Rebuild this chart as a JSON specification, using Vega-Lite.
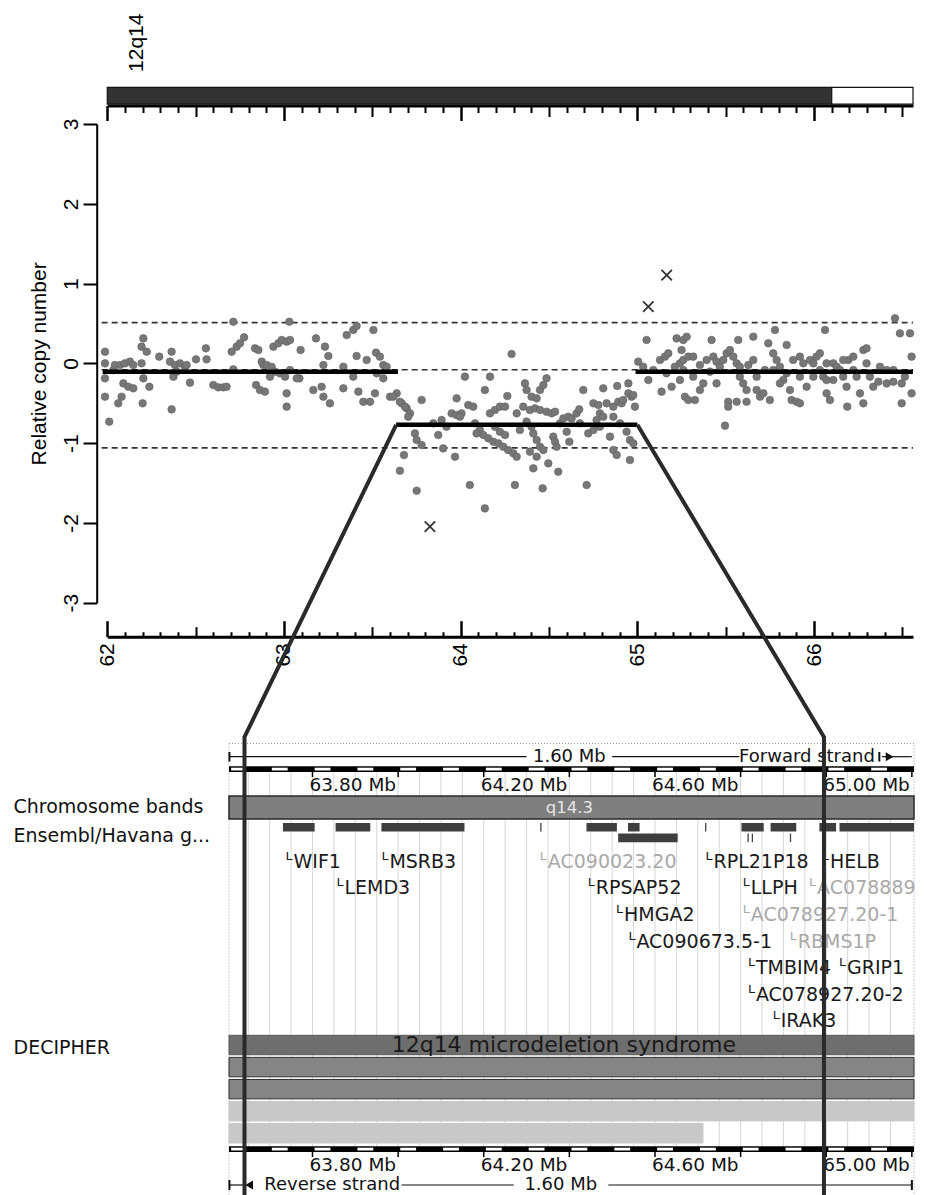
{
"$schema":"https://vega.github.io/schema/vega-lite/v6.json",
"autosize":"none","padding":0,"width":926,"height":1195,"background":"white",
"config":{"view":{"stroke":null},"axis":{"grid":false,"labelOverlap":false,"labelFlush":false,"labelBound":false,"domainCap":"butt","tickCap":"butt"}},
"datasets":{
"cn":[{"p":61.987,"c":0.146},{"p":61.987,"c":0.0},{"p":61.987,"c":-0.188},{"p":61.987,"c":-0.418},{"p":62.011,"c":-0.731},{"p":62.034,"c":-0.084},{"p":62.043,"c":-0.021},{"p":62.072,"c":-0.021},{"p":62.1,"c":0.0},{"p":62.128,"c":0.021},{"p":62.147,"c":-0.021},{"p":62.091,"c":-0.251},{"p":62.119,"c":-0.293},{"p":62.147,"c":-0.313},{"p":62.081,"c":-0.418},{"p":62.062,"c":-0.501},{"p":62.204,"c":0.313},{"p":62.194,"c":0.209},{"p":62.223,"c":0.146},{"p":62.194,"c":0.0},{"p":62.204,"c":-0.188},{"p":62.238,"c":-0.293},{"p":62.2,"c":-0.501},{"p":62.294,"c":0.084},{"p":62.364,"c":0.146},{"p":62.355,"c":0.021},{"p":62.383,"c":-0.021},{"p":62.411,"c":0.0},{"p":62.44,"c":-0.042},{"p":62.449,"c":-0.021},{"p":62.374,"c":-0.167},{"p":62.392,"c":-0.104},{"p":62.364,"c":-0.577},{"p":62.468,"c":-0.242},{"p":62.502,"c":0.05},{"p":62.558,"c":0.188},{"p":62.562,"c":0.05},{"p":62.6,"c":-0.272},{"p":62.628,"c":-0.301},{"p":62.657,"c":-0.301},{"p":62.675,"c":-0.293},{"p":62.713,"c":0.522},{"p":62.713,"c":-0.075},{"p":62.704,"c":0.146},{"p":62.732,"c":0.209},{"p":62.751,"c":0.251},{"p":62.774,"c":0.326},{"p":62.836,"c":0.188},{"p":62.855,"c":0.167},{"p":62.874,"c":0.021},{"p":62.883,"c":-0.021},{"p":62.902,"c":-0.021},{"p":62.842,"c":-0.272},{"p":62.864,"c":-0.334},{"p":62.892,"c":-0.355},{"p":62.94,"c":0.209},{"p":62.968,"c":0.251},{"p":62.987,"c":0.293},{"p":63.015,"c":0.272},{"p":63.034,"c":0.293},{"p":62.93,"c":-0.042},{"p":62.949,"c":-0.104},{"p":62.977,"c":-0.125},{"p":63.006,"c":-0.167},{"p":63.034,"c":-0.084},{"p":62.921,"c":-0.167},{"p":63.03,"c":0.522},{"p":63.094,"c":0.167},{"p":63.015,"c":-0.376},{"p":63.015,"c":-0.543},{"p":63.087,"c":-0.188},{"p":63.072,"c":-0.188},{"p":63.181,"c":0.313},{"p":63.232,"c":0.209},{"p":63.251,"c":0.092},{"p":63.223,"c":-0.021},{"p":63.166,"c":-0.334},{"p":63.213,"c":-0.293},{"p":63.223,"c":-0.418},{"p":63.26,"c":-0.501},{"p":63.336,"c":-0.042},{"p":63.336,"c":-0.313},{"p":63.355,"c":0.355},{"p":63.392,"c":0.418},{"p":63.411,"c":0.468},{"p":63.411,"c":0.092},{"p":63.468,"c":0.042},{"p":63.506,"c":0.418},{"p":63.521,"c":0.134},{"p":63.543,"c":0.084},{"p":63.562,"c":-0.021},{"p":63.581,"c":-0.042},{"p":63.525,"c":-0.125},{"p":63.392,"c":-0.167},{"p":63.421,"c":-0.355},{"p":63.449,"c":-0.481},{"p":63.487,"c":-0.481},{"p":63.515,"c":-0.376},{"p":63.562,"c":-0.188},{"p":63.6,"c":-0.418},{"p":63.638,"c":-0.376},{"p":63.666,"c":-0.501},{"p":63.694,"c":-0.564},{"p":63.713,"c":-0.627},
{"p":63.618,"c":-0.418},{"p":63.656,"c":-0.481},{"p":63.685,"c":-0.543},{"p":63.703,"c":-0.669},{"p":63.779,"c":-0.46},{"p":63.741,"c":-0.878},{"p":63.751,"c":-0.961},{"p":63.779,"c":-1.024},{"p":63.679,"c":-1.149},{"p":63.656,"c":-1.346},{"p":63.751,"c":-1.596},{"p":63.892,"c":-0.71},{"p":63.901,"c":-1.066},{"p":63.968,"c":-1.17},{"p":63.949,"c":-0.627},{"p":63.977,"c":-0.648},{"p":64.005,"c":-0.627},{"p":63.977,"c":-0.439},{"p":64.024,"c":-0.167},{"p":64.043,"c":-0.522},{"p":64.071,"c":-0.543},{"p":64.052,"c":-1.525},{"p":64.137,"c":-1.818},{"p":64.137,"c":-0.334},{"p":64.166,"c":-0.167},{"p":64.166,"c":-0.627},{"p":64.194,"c":-0.585},{"p":64.222,"c":-0.543},{"p":64.251,"c":-0.543},{"p":64.109,"c":-0.836},{"p":64.128,"c":-0.898},{"p":64.156,"c":-0.94},{"p":64.185,"c":-0.982},{"p":64.213,"c":-1.003},{"p":64.241,"c":-1.045},{"p":64.269,"c":-1.087},{"p":64.298,"c":-1.128},{"p":64.317,"c":-1.17},{"p":64.194,"c":-0.794},{"p":64.222,"c":-0.857},{"p":64.251,"c":-0.898},{"p":64.264,"c":-0.41},{"p":64.288,"c":0.117},{"p":64.317,"c":-0.627},{"p":64.307,"c":-1.525},{"p":64.364,"c":-0.251},{"p":64.373,"c":-0.334},{"p":64.401,"c":-0.418},{"p":64.43,"c":-0.439},{"p":64.449,"c":-0.334},{"p":64.468,"c":-0.272},{"p":64.486,"c":-0.188},{"p":64.354,"c":-0.543},{"p":64.392,"c":-0.585},{"p":64.42,"c":-0.564},{"p":64.449,"c":-0.585},{"p":64.486,"c":-0.606},{"p":64.515,"c":-0.627},{"p":64.534,"c":-0.606},{"p":64.373,"c":-0.731},{"p":64.401,"c":-0.794},{"p":64.411,"c":-0.878},{"p":64.43,"c":-0.961},{"p":64.449,"c":-1.045},{"p":64.468,"c":-1.087},{"p":64.392,"c":-1.107},{"p":64.43,"c":-1.17},{"p":64.496,"c":-1.254},{"p":64.411,"c":-1.316},{"p":64.464,"c":-1.567},{"p":64.524,"c":-0.919},{"p":64.534,"c":-0.982},{"p":64.543,"c":-1.045},{"p":64.562,"c":-0.752},{"p":64.581,"c":-0.69},{"p":64.609,"c":-0.669},{"p":64.628,"c":-0.69},{"p":64.656,"c":-0.627},{"p":64.552,"c":-1.358},{"p":64.615,"c":-0.982},{"p":64.671,"c":-0.577},{"p":64.713,"c":-1.525},{"p":64.722,"c":-0.878},{"p":64.751,"c":-0.501},{"p":64.779,"c":-0.522},{"p":64.788,"c":-0.627},{"p":64.807,"c":-0.669},{"p":64.826,"c":-0.501},{"p":64.864,"c":-0.543},{"p":64.892,"c":-0.481},{"p":64.911,"c":-0.501},{"p":64.92,"c":-0.46},{"p":64.949,"c":-0.376},{"p":64.967,"c":-0.418},{"p":64.807,"c":-0.313},{"p":64.886,"c":-0.284},{"p":64.949,"c":-0.251},{"p":64.977,"c":-0.397},{"p":64.986,"c":-0.543},{"p":64.769,"c":-0.71},{"p":64.788,"c":-0.794},{"p":64.864,"c":-0.669},{"p":64.902,"c":-0.752},{"p":64.939,"c":-0.857},{"p":64.958,"c":-0.961},{"p":64.977,"c":-1.003},{"p":64.864,"c":-1.087},{"p":64.883,"c":-1.149},{"p":64.958,"c":-1.212},{"p":63.845,"c":-0.752},{"p":63.92,"c":-0.794},{"p":63.873,"c":-0.898},{"p":63.996,"c":-0.669},{"p":64.09,"c":-0.878},{"p":64.081,"c":-0.752},{"p":64.335,"c":-0.836},{"p":64.6,"c":-0.857},{"p":64.675,"c":-0.752},{"p":64.751,"c":-0.836},{"p":64.845,"c":-0.919},{"p":64.694,"c":-0.334},
{"p":65.005,"c":0.021},{"p":65.033,"c":-0.042},{"p":65.062,"c":-0.209},{"p":65.052,"c":0.293},{"p":65.128,"c":0.042},{"p":65.156,"c":0.084},{"p":65.175,"c":0.125},{"p":65.137,"c":-0.355},{"p":65.194,"c":-0.293},{"p":65.222,"c":0.313},{"p":65.26,"c":0.293},{"p":65.279,"c":0.334},{"p":65.25,"c":0.167},{"p":65.241,"c":0.0},{"p":65.26,"c":0.042},{"p":65.288,"c":0.084},{"p":65.316,"c":0.084},{"p":65.26,"c":-0.084},{"p":65.241,"c":-0.209},{"p":65.269,"c":-0.418},{"p":65.288,"c":-0.46},{"p":65.326,"c":-0.46},{"p":65.354,"c":-0.334},{"p":65.373,"c":-0.251},{"p":65.392,"c":0.042},{"p":65.43,"c":0.084},{"p":65.42,"c":0.293},{"p":65.448,"c":0.021},{"p":65.467,"c":-0.042},{"p":65.486,"c":0.042},{"p":65.505,"c":0.125},{"p":65.524,"c":0.167},{"p":65.543,"c":0.084},{"p":65.562,"c":0.0},{"p":65.58,"c":-0.042},{"p":65.58,"c":-0.167},{"p":65.599,"c":-0.251},{"p":65.618,"c":-0.334},{"p":65.571,"c":0.293},{"p":65.514,"c":-0.481},{"p":65.514,"c":-0.543},{"p":65.496,"c":-0.781},{"p":65.562,"c":-0.481},{"p":65.618,"c":-0.481},{"p":65.656,"c":0.334},{"p":65.675,"c":-0.334},{"p":65.694,"c":-0.418},{"p":65.713,"c":-0.376},{"p":65.722,"c":-0.084},{"p":65.741,"c":0.251},{"p":65.75,"c":-0.46},{"p":65.769,"c":0.125},{"p":65.779,"c":0.418},{"p":65.788,"c":0.042},{"p":65.807,"c":-0.042},{"p":65.826,"c":-0.209},{"p":65.845,"c":0.23},{"p":65.864,"c":-0.334},{"p":65.873,"c":-0.46},{"p":65.901,"c":-0.481},{"p":65.92,"c":-0.501},{"p":65.882,"c":0.042},{"p":65.92,"c":0.084},{"p":65.939,"c":0.0},{"p":65.958,"c":-0.293},{"p":65.977,"c":0.042},{"p":65.996,"c":0.0},{"p":66.014,"c":0.084},{"p":66.033,"c":0.125},{"p":66.033,"c":-0.084},{"p":66.052,"c":-0.167},{"p":66.071,"c":-0.209},{"p":66.062,"c":0.418},{"p":66.071,"c":-0.376},{"p":66.09,"c":-0.46},{"p":66.109,"c":0.0},{"p":66.128,"c":-0.042},{"p":66.147,"c":-0.084},{"p":66.165,"c":-0.167},{"p":66.184,"c":-0.293},{"p":66.188,"c":-0.543},{"p":66.194,"c":0.042},{"p":66.222,"c":-0.084},{"p":66.241,"c":-0.167},{"p":66.26,"c":-0.376},{"p":66.279,"c":-0.501},{"p":66.279,"c":0.167},{"p":66.297,"c":0.188},{"p":66.297,"c":0.0},{"p":66.316,"c":-0.167},{"p":66.335,"c":-0.293},{"p":66.364,"c":-0.23},{"p":66.411,"c":-0.084},{"p":66.411,"c":-0.251},{"p":66.449,"c":-0.23},{"p":66.458,"c":0.564},{"p":66.486,"c":0.376},{"p":66.496,"c":-0.251},{"p":66.496,"c":-0.501},{"p":66.514,"c":-0.167},{"p":66.543,"c":0.376},{"p":66.552,"c":0.084},{"p":66.552,"c":-0.376},{"p":65.212,"c":-0.042},{"p":65.354,"c":-0.021},{"p":65.411,"c":-0.104},{"p":65.628,"c":-0.021},{"p":65.656,"c":0.042},{"p":65.769,"c":-0.084},{"p":65.845,"c":-0.125},{"p":65.92,"c":-0.167},{"p":65.996,"c":-0.167},{"p":66.109,"c":-0.209},{"p":66.222,"c":0.084},{"p":66.373,"c":-0.042},{"p":66.449,"c":-0.084},{"p":65.09,"c":-0.084},{"p":65.165,"c":-0.125},{"p":65.316,"c":-0.167},{"p":65.448,"c":-0.251},{"p":65.675,"c":-0.167},{"p":65.807,"c":-0.251},{"p":66.071,"c":0.0},{"p":66.165,"c":0.042}],
"dashes":[{"s":63.41,"e":63.44},{"s":63.505,"e":63.542},{"s":63.605,"e":63.642},{"s":63.705,"e":63.742},{"s":63.805,"e":63.842},{"s":63.905,"e":63.942},{"s":64.005,"e":64.042},{"s":64.105,"e":64.142},{"s":64.205,"e":64.242},{"s":64.305,"e":64.342},{"s":64.405,"e":64.442},{"s":64.505,"e":64.542},{"s":64.605,"e":64.642},{"s":64.705,"e":64.742},{"s":64.805,"e":64.842},{"s":64.905,"e":64.942}],
"rticks":[{"mb":63.6},{"mb":63.8},{"mb":64.0},{"mb":64.2},{"mb":64.4},{"mb":64.6},{"mb":64.8},{"mb":65.0}],
"rlabels":[{"mb":63.8,"t":"63.80 Mb"},{"mb":64.2,"t":"64.20 Mb"},{"mb":64.6,"t":"64.60 Mb"},{"mb":65.0,"t":"65.00 Mb"}],
"glabels":[{"name":"WIF1","mb":63.537,"row":1,"shade":"dark"},{"name":"MSRB3","mb":63.761,"row":1,"shade":"dark"},{"name":"AC090023.20","mb":64.131,"row":1,"shade":"light"},{"name":"RPL21P18","mb":64.518,"row":1,"shade":"dark"},{"name":"HELB","mb":64.79,"row":1,"shade":"dark"},{"name":"LEMD3","mb":63.656,"row":2,"shade":"dark"},{"name":"RPSAP52","mb":64.243,"row":2,"shade":"dark"},{"name":"LLPH","mb":64.605,"row":2,"shade":"dark"},{"name":"AC078889","mb":64.76,"row":2,"shade":"light"},{"name":"HMGA2","mb":64.309,"row":3,"shade":"dark"},{"name":"AC078927.20-1","mb":64.605,"row":3,"shade":"light"},{"name":"AC090673.5-1","mb":64.338,"row":4,"shade":"dark"},{"name":"RBMS1P","mb":64.715,"row":4,"shade":"light"},{"name":"TMBIM4","mb":64.617,"row":5,"shade":"dark"},{"name":"GRIP1","mb":64.83,"row":5,"shade":"dark"},{"name":"AC078927.20-2","mb":64.617,"row":6,"shade":"dark"},{"name":"IRAK3","mb":64.675,"row":7,"shade":"dark"}]
},
"layer":[
{"data":{"values":[{"track":"panel","s":63.405,"e":65.005}]},
 "mark":{"type":"rect","fill":"white","stroke":"#9a9a9a","strokeDash":[1,2],"strokeWidth":1},
 "encoding":{"x":{"field":"s","type":"quantitative","scale":{"domain":[63.405,65.005],"range":[229,914],"nice":false,"zero":false},"axis":null},"x2":{"field":"e"},
  "y":{"datum":0.85,"type":"quantitative","scale":{"domain":[0,46],"range":[735,1195],"nice":false,"zero":false},
   "axis":{"orient":"left","offset":-229,"values":[7.17,10.0,31.2],"ticks":false,"tickSize":0,"domain":false,"labelAlign":"left","labelBaseline":"middle","labelPadding":216,"labelFont":"DejaVu Sans","labelFontSize":19,"labelColor":"#111","labelLimit":300,"labelExpr":"datum.value < 8 ? 'Chromosome bands' : (datum.value < 20 ? 'Ensembl/Havana g...' : 'DECIPHER')","title":null}},
  "y2":{"datum":47}}},
{"data":{"values":[{"mb":63.45},{"mb":63.5},{"mb":63.55},{"mb":63.6},{"mb":63.65},{"mb":63.7},{"mb":63.75},{"mb":63.8},{"mb":63.85},{"mb":63.9},{"mb":63.95},{"mb":64.0},{"mb":64.05},{"mb":64.1},{"mb":64.15},{"mb":64.2},{"mb":64.25},{"mb":64.3},{"mb":64.35},{"mb":64.4},{"mb":64.45},{"mb":64.5},{"mb":64.55},{"mb":64.6},{"mb":64.65},{"mb":64.7},{"mb":64.75},{"mb":64.8},{"mb":64.85},{"mb":64.9},{"mb":64.95}]},
 "mark":{"type":"rule","color":"#d6d6d6","strokeWidth":1},
 "encoding":{"x":{"field":"mb","type":"quantitative","scale":{"domain":[63.405,65.005],"range":[229,914],"nice":false,"zero":false},"axis":null},
  "y":{"datum":3.7,"type":"quantitative","scale":{"domain":[0,46],"range":[735,1195],"nice":false,"zero":false},"axis":null},"y2":{"datum":41.2}}},
{"data":{"values":[{"s":63.405,"e":64.1},{"s":64.3,"e":64.597},{"s":64.93,"e":65.0}]},
 "mark":{"type":"rule","color":"#111","strokeWidth":1.2},
 "encoding":{"x":{"field":"s","type":"quantitative","scale":{"domain":[63.405,65.005],"range":[229,914],"nice":false,"zero":false},"axis":null},"x2":{"field":"e"},
  "y":{"datum":2.17,"type":"quantitative","scale":{"domain":[0,46],"range":[735,1195],"nice":false,"zero":false},"axis":null}}},
{"data":{"values":[{"mb":63.406},{"mb":64.924}]},
 "mark":{"type":"rule","color":"#111","strokeWidth":2},
 "encoding":{"x":{"field":"mb","type":"quantitative","scale":{"domain":[63.405,65.005],"range":[229,914],"nice":false,"zero":false},"axis":null},
  "y":{"datum":1.7,"type":"quantitative","scale":{"domain":[0,46],"range":[735,1195],"nice":false,"zero":false},"axis":null},"y2":{"datum":2.65}}},
{"data":{"values":[{"mb":64.948}]},
 "mark":{"type":"point","shape":"triangle-right","filled":true,"color":"#111","size":80,"opacity":1},
 "encoding":{"x":{"field":"mb","type":"quantitative","scale":{"domain":[63.405,65.005],"range":[229,914],"nice":false,"zero":false},"axis":null},
  "y":{"datum":2.17,"type":"quantitative","scale":{"domain":[0,46],"range":[735,1195],"nice":false,"zero":false},"axis":null}}},
{"data":{"values":[{"mb":64.2,"t":"1.60 Mb"},{"mb":64.755,"t":"Forward strand"}]},
 "mark":{"type":"text","font":"DejaVu Sans","fontSize":18,"color":"#111","align":"center","baseline":"middle"},
 "encoding":{"x":{"field":"mb","type":"quantitative","scale":{"domain":[63.405,65.005],"range":[229,914],"nice":false,"zero":false},"axis":null},
  "y":{"datum":2.17,"type":"quantitative","scale":{"domain":[0,46],"range":[735,1195],"nice":false,"zero":false},"axis":null},"text":{"field":"t"}}},
{"data":{"values":[{"s":63.405,"e":65.005}]},
 "mark":{"type":"rect","fill":"#000"},
 "encoding":{"x":{"field":"s","type":"quantitative","scale":{"domain":[63.405,65.005],"range":[229,914],"nice":false,"zero":false},"axis":null},"x2":{"field":"e"},
  "y":{"datum":3.12,"type":"quantitative","scale":{"domain":[0,46],"range":[735,1195],"nice":false,"zero":false},"axis":null},"y2":{"datum":3.7}}},
{"data":{"name":"dashes"},
 "mark":{"type":"rect","fill":"#fff"},
 "encoding":{"x":{"field":"s","type":"quantitative","scale":{"domain":[63.405,65.005],"range":[229,914],"nice":false,"zero":false},"axis":null},"x2":{"field":"e"},
  "y":{"datum":3.27,"type":"quantitative","scale":{"domain":[0,46],"range":[735,1195],"nice":false,"zero":false},"axis":null},"y2":{"datum":3.55}}},
{"data":{"name":"rticks"},
 "mark":{"type":"rule","color":"#000","strokeWidth":1.5},
 "encoding":{"x":{"field":"mb","type":"quantitative","scale":{"domain":[63.405,65.005],"range":[229,914],"nice":false,"zero":false},"axis":null},
  "y":{"datum":3.7,"type":"quantitative","scale":{"domain":[0,46],"range":[735,1195],"nice":false,"zero":false},"axis":null},"y2":{"datum":4.2}}},
{"data":{"name":"rlabels"},
 "mark":{"type":"text","font":"DejaVu Sans","fontSize":18.5,"color":"#111","align":"right","baseline":"middle","dx":-2},
 "encoding":{"x":{"field":"mb","type":"quantitative","scale":{"domain":[63.405,65.005],"range":[229,914],"nice":false,"zero":false},"axis":null},
  "y":{"datum":5.0,"type":"quantitative","scale":{"domain":[0,46],"range":[735,1195],"nice":false,"zero":false},"axis":null},"text":{"field":"t"}}},
{"data":{"values":[{"band":"q14.3","s":63.405,"e":65.005}]},
 "mark":{"type":"rect","fill":"#7f7f7f","stroke":"#2a2a2a","strokeWidth":1.5},
 "encoding":{"x":{"field":"s","type":"quantitative","scale":{"domain":[63.405,65.005],"range":[229,914],"nice":false,"zero":false},"axis":null},"x2":{"field":"e"},
  "y":{"datum":6.1,"type":"quantitative","scale":{"domain":[0,46],"range":[735,1195],"nice":false,"zero":false},"axis":null},"y2":{"datum":8.4}}},
{"data":{"values":[{"band":"q14.3","mid":64.2}]},
 "mark":{"type":"text","font":"DejaVu Sans","fontSize":16.5,"color":"#e6e6e6","align":"center","baseline":"middle"},
 "encoding":{"x":{"field":"mid","type":"quantitative","scale":{"domain":[63.405,65.005],"range":[229,914],"nice":false,"zero":false},"axis":null},
  "y":{"datum":7.25,"type":"quantitative","scale":{"domain":[0,46],"range":[735,1195],"nice":false,"zero":false},"axis":null},"text":{"field":"band"}}},
{"data":{"values":[{"s":63.531,"e":63.605,"row":1},{"s":63.654,"e":63.735,"row":1},{"s":63.761,"e":63.955,"row":1},{"s":64.24,"e":64.311,"row":1},{"s":64.337,"e":64.364,"row":1},{"s":64.602,"e":64.654,"row":1},{"s":64.67,"e":64.73,"row":1},{"s":64.784,"e":64.823,"row":1},{"s":64.831,"e":65.005,"row":1},{"s":64.132,"e":64.135,"row":1},{"s":64.517,"e":64.52,"row":1},{"s":64.314,"e":64.453,"row":2},{"s":64.616,"e":64.619,"row":2},{"s":64.626,"e":64.629,"row":2},{"s":64.715,"e":64.718,"row":2}]},
 "mark":{"type":"rect","fill":"#3e3e3e"},
 "encoding":{"x":{"field":"s","type":"quantitative","scale":{"domain":[63.405,65.005],"range":[229,914],"nice":false,"zero":false},"axis":null},"x2":{"field":"e"},
  "y":{"field":"row","type":"ordinal","scale":{"type":"band","domain":[1,2],"range":[821.9,843.2],"paddingInner":0.2,"paddingOuter":0.1},"axis":null}}},
{"data":{"name":"glabels"},
 "mark":{"type":"text","font":"DejaVu Sans","fontSize":20,"align":"left","baseline":"middle","text":"ᴸ","dy":-1},
 "encoding":{"x":{"field":"mb","type":"quantitative","scale":{"domain":[63.405,65.005],"range":[229,914],"nice":false,"zero":false},"axis":null},
  "y":{"field":"row","type":"ordinal","scale":{"type":"point","domain":[1,2,3,4,5,6,7],"range":[861.7,1021.3],"padding":0},"axis":null},
  "color":{"field":"shade","type":"nominal","scale":{"domain":["dark","light"],"range":["#1a1a1a","#a9a9a9"]},"legend":null}}},
{"data":{"name":"glabels"},
 "mark":{"type":"text","font":"DejaVu Sans","fontSize":19,"align":"left","baseline":"middle","dx":8},
 "encoding":{"x":{"field":"mb","type":"quantitative","scale":{"domain":[63.405,65.005],"range":[229,914],"nice":false,"zero":false},"axis":null},
  "y":{"field":"row","type":"ordinal","scale":{"type":"point","domain":[1,2,3,4,5,6,7],"range":[861.7,1021.3],"padding":0},"axis":null},
  "color":{"field":"shade","type":"nominal","scale":{"domain":["dark","light"],"range":["#1a1a1a","#a9a9a9"]},"legend":null},
  "text":{"field":"name"}}},
{"data":{"values":[{"track":1,"s":63.405,"e":65.005,"kind":"syndrome"},{"track":2,"s":63.405,"e":65.005,"kind":"hatched"},{"track":3,"s":63.405,"e":65.005,"kind":"hatched"},{"track":4,"s":63.405,"e":65.005,"kind":"light"},{"track":5,"s":63.405,"e":64.512,"kind":"light"}]},
 "mark":{"type":"rect","strokeWidth":1},
 "encoding":{"x":{"field":"s","type":"quantitative","scale":{"domain":[63.405,65.005],"range":[229,914],"nice":false,"zero":false},"axis":null},"x2":{"field":"e"},
  "y":{"field":"track","type":"ordinal","scale":{"type":"band","domain":[1,2,3,4,5],"range":[1034,1144.3],"paddingInner":0.12,"paddingOuter":0.06},"axis":null},
  "fill":{"field":"kind","type":"nominal","scale":{"domain":["syndrome","hatched","light"],"range":["#6e6e6e","#858585","#c8c8c8"]},"legend":null},
  "stroke":{"field":"kind","type":"nominal","scale":{"domain":["syndrome","hatched","light"],"range":["#5a5a5a","#2e2e2e","#c8c8c8"]},"legend":null}}},
{"data":{"values":[{"track":1,"mid":64.187,"t":"12q14 microdeletion syndrome"}]},
 "mark":{"type":"text","font":"DejaVu Sans","fontSize":22,"color":"#1a1a1a","align":"center","baseline":"middle"},
 "encoding":{"x":{"field":"mid","type":"quantitative","scale":{"domain":[63.405,65.005],"range":[229,914],"nice":false,"zero":false},"axis":null},
  "y":{"field":"track","type":"ordinal","scale":{"type":"band","domain":[1,2,3,4,5],"range":[1034,1144.3],"paddingInner":0.12,"paddingOuter":0.06},"axis":null},
  "text":{"field":"t"}}},
{"data":{"values":[{"s":63.405,"e":65.005}]},
 "mark":{"type":"rect","fill":"#000"},
 "encoding":{"x":{"field":"s","type":"quantitative","scale":{"domain":[63.405,65.005],"range":[229,914],"nice":false,"zero":false},"axis":null},"x2":{"field":"e"},
  "y":{"datum":41.12,"type":"quantitative","scale":{"domain":[0,46],"range":[735,1195],"nice":false,"zero":false},"axis":null},"y2":{"datum":41.7}}},
{"data":{"name":"dashes"},
 "mark":{"type":"rect","fill":"#fff"},
 "encoding":{"x":{"field":"s","type":"quantitative","scale":{"domain":[63.405,65.005],"range":[229,914],"nice":false,"zero":false},"axis":null},"x2":{"field":"e"},
  "y":{"datum":41.27,"type":"quantitative","scale":{"domain":[0,46],"range":[735,1195],"nice":false,"zero":false},"axis":null},"y2":{"datum":41.55}}},
{"data":{"name":"rticks"},
 "mark":{"type":"rule","color":"#000","strokeWidth":1.5},
 "encoding":{"x":{"field":"mb","type":"quantitative","scale":{"domain":[63.405,65.005],"range":[229,914],"nice":false,"zero":false},"axis":null},
  "y":{"datum":41.7,"type":"quantitative","scale":{"domain":[0,46],"range":[735,1195],"nice":false,"zero":false},"axis":null},"y2":{"datum":42.2}}},
{"data":{"name":"rlabels"},
 "mark":{"type":"text","font":"DejaVu Sans","fontSize":18.5,"color":"#111","align":"right","baseline":"middle","dx":-2},
 "encoding":{"x":{"field":"mb","type":"quantitative","scale":{"domain":[63.405,65.005],"range":[229,914],"nice":false,"zero":false},"axis":null},
  "y":{"datum":43.0,"type":"quantitative","scale":{"domain":[0,46],"range":[735,1195],"nice":false,"zero":false},"axis":null},"text":{"field":"t"}}},
{"data":{"values":[{"s":63.405,"e":63.44},{"s":63.808,"e":64.07},{"s":64.291,"e":65.0}]},
 "mark":{"type":"rule","color":"#111","strokeWidth":1.2},
 "encoding":{"x":{"field":"s","type":"quantitative","scale":{"domain":[63.405,65.005],"range":[229,914],"nice":false,"zero":false},"axis":null},"x2":{"field":"e"},
  "y":{"datum":45.0,"type":"quantitative","scale":{"domain":[0,46],"range":[735,1195],"nice":false,"zero":false},"axis":null}}},
{"data":{"values":[{"mb":63.406},{"mb":65.0}]},
 "mark":{"type":"rule","color":"#111","strokeWidth":2},
 "encoding":{"x":{"field":"mb","type":"quantitative","scale":{"domain":[63.405,65.005],"range":[229,914],"nice":false,"zero":false},"axis":null},
  "y":{"datum":44.5,"type":"quantitative","scale":{"domain":[0,46],"range":[735,1195],"nice":false,"zero":false},"axis":null},"y2":{"datum":45.5}}},
{"data":{"values":[{"mb":63.452}]},
 "mark":{"type":"point","shape":"triangle-left","filled":true,"color":"#111","size":80,"opacity":1},
 "encoding":{"x":{"field":"mb","type":"quantitative","scale":{"domain":[63.405,65.005],"range":[229,914],"nice":false,"zero":false},"axis":null},
  "y":{"datum":45.0,"type":"quantitative","scale":{"domain":[0,46],"range":[735,1195],"nice":false,"zero":false},"axis":null}}},
{"data":{"values":[{"mb":63.646,"t":"Reverse strand"},{"mb":64.18,"t":"1.60 Mb"}]},
 "mark":{"type":"text","font":"DejaVu Sans","fontSize":18,"color":"#111","align":"center","baseline":"middle"},
 "encoding":{"x":{"field":"mb","type":"quantitative","scale":{"domain":[63.405,65.005],"range":[229,914],"nice":false,"zero":false},"axis":null},
  "y":{"datum":45.0,"type":"quantitative","scale":{"domain":[0,46],"range":[735,1195],"nice":false,"zero":false},"axis":null},"text":{"field":"t"}}},
{"data":{"values":[{"s":62,"e":66.1,"stain":"gpos"},{"s":66.1,"e":66.56,"stain":"gneg"}]},
 "mark":{"type":"rect","stroke":"#111","strokeWidth":1.2},
 "encoding":{"x":{"field":"s","type":"quantitative","scale":{"domain":[62,66.56],"range":[107.3,913],"nice":false,"zero":false},
   "axis":{"orient":"bottom","offset":-1089.5,"values":[62,63,64,65,66],"domain":true,"domainWidth":3,"domainColor":"#000","ticks":true,"tickSize":15,"tickWidth":2.5,"tickColor":"#000","labels":false,"title":null}},"x2":{"field":"e"},
  "y":{"datum":3.25,"type":"quantitative","scale":{"domain":[-3,3],"range":[602.7,124],"nice":false,"zero":false},"axis":null},"y2":{"datum":3.46},
  "fill":{"field":"stain","type":"nominal","scale":{"domain":["gpos","gneg"],"range":["#333333","#ffffff"]},"legend":null}}},
{"data":{"values":[{"band":"12q14","mb":62.166}]},
 "mark":{"type":"text","font":"Liberation Sans","fontSize":21,"color":"#000","angle":270,"align":"left","baseline":"middle"},
 "encoding":{"x":{"field":"mb","type":"quantitative","scale":{"domain":[62,66.56],"range":[107.3,913],"nice":false,"zero":false},
   "axis":{"orient":"bottom","offset":-1089.5,"values":[62.5,63.5,64.5,65.5,66.5],"domain":false,"ticks":true,"tickSize":11,"tickWidth":2,"tickColor":"#000","labels":false,"title":null}},
  "y":{"datum":3.652,"type":"quantitative","scale":{"domain":[-3,3],"range":[602.7,124],"nice":false,"zero":false},"axis":null},"text":{"field":"band"}}},
{"data":{"values":[{"c":0.51},{"c":-0.08},{"c":-1.06}]},
 "mark":{"type":"rule","color":"#333","strokeWidth":1.6,"strokeDash":[6,4]},
 "encoding":{"x":{"datum":61.968,"type":"quantitative","scale":{"domain":[62,66.56],"range":[107.3,913],"nice":false,"zero":false},
   "axis":{"orient":"bottom","offset":-1089.5,"values":[62.1,62.2,62.3,62.4,62.6,62.7,62.8,62.9,63.1,63.2,63.3,63.4,63.6,63.7,63.8,63.9,64.1,64.2,64.3,64.4,64.6,64.7,64.8,64.9,65.1,65.2,65.3,65.4,65.6,65.7,65.8,65.9,66.1,66.2,66.3,66.4],"domain":false,"ticks":true,"tickSize":7,"tickWidth":2,"tickColor":"#000","labels":false,"title":null}},"x2":{"datum":66.56},
  "y":{"field":"c","type":"quantitative","scale":{"domain":[-3,3],"range":[602.7,124],"nice":false,"zero":false},"axis":null}}},
{"data":{"name":"cn"},
 "mark":{"type":"circle","size":58,"fill":"#777777","stroke":"#616161","strokeWidth":0.6,"opacity":1},
 "encoding":{"x":{"field":"p","type":"quantitative","scale":{"domain":[62,66.56],"range":[107.3,913],"nice":false,"zero":false},
   "axis":{"orient":"bottom","offset":-558.3,"values":[62,63,64,65,66],"ticks":false,"tickSize":0,"domain":false,"labelAngle":-90,"labelPadding":6,"labelFont":"Liberation Sans","labelFontSize":21,"labelColor":"#000","title":null}},
  "y":{"field":"c","type":"quantitative","scale":{"domain":[-3,3],"range":[602.7,124],"nice":false,"zero":false},
   "axis":{"orient":"left","offset":-96.7,"values":[-3,-2,-1,0,1,2,3],"domain":true,"domainWidth":2,"domainColor":"#000","ticks":true,"tickSize":13.7,"tickWidth":2,"tickColor":"#000","labelAngle":-90,"labelPadding":2,"labelFont":"Liberation Sans","labelFontSize":21,"labelColor":"#000","labelExpr":"'' + datum.value","title":"Relative copy number","titleFont":"Liberation Sans","titleFontSize":21,"titleFontWeight":"normal","titleColor":"#000","titlePadding":10}}}},
{"data":{"values":[{"s":61.974,"e":63.645,"c":-0.105},{"s":63.635,"e":65.0,"c":-0.77},{"s":64.99,"e":66.56,"c":-0.105}]},
 "mark":{"type":"rule","color":"#000","strokeWidth":4.5},
 "encoding":{"x":{"field":"s","type":"quantitative","scale":{"domain":[62,66.56],"range":[107.3,913],"nice":false,"zero":false},
   "axis":{"orient":"top","offset":-636.7,"values":[62,63,64,65,66],"domain":true,"domainWidth":3,"domainColor":"#000","ticks":true,"tickSize":16,"tickWidth":2.5,"tickColor":"#000","labels":false,"title":null}},"x2":{"field":"e"},
  "y":{"field":"c","type":"quantitative","scale":{"domain":[-3,3],"range":[602.7,124],"nice":false,"zero":false},"axis":null}}},
{"data":{"values":[{"p":63.826,"c":-2.047},{"p":65.062,"c":0.71},{"p":65.166,"c":1.107}]},
 "mark":{"type":"point","shape":"M-1,-1L1,1M-1,1L1,-1","filled":false,"stroke":"#333","strokeWidth":1.8,"size":110,"opacity":1},
 "encoding":{"x":{"field":"p","type":"quantitative","scale":{"domain":[62,66.56],"range":[107.3,913],"nice":false,"zero":false},
   "axis":{"orient":"top","offset":-636.7,"values":[62.5,63.5,64.5,65.5,66.5],"domain":false,"ticks":true,"tickSize":10,"tickWidth":2,"tickColor":"#000","labels":false,"title":null}},
  "y":{"field":"c","type":"quantitative","scale":{"domain":[-3,3],"range":[602.7,124],"nice":false,"zero":false},"axis":null}}},
{"data":{"values":[{"side":"L","o":1,"p":62.7765,"c":-10.6},{"side":"L","o":2,"p":62.7765,"c":-4.683},{"side":"L","o":3,"p":63.635,"c":-0.77},{"side":"R","o":1,"p":65.0,"c":-0.77},{"side":"R","o":2,"p":66.056,"c":-4.683},{"side":"R","o":3,"p":66.056,"c":-10.6}]},
 "mark":{"type":"line","color":"#2a2a2a","strokeWidth":4},
 "encoding":{"x":{"field":"p","type":"quantitative","scale":{"domain":[62,66.56],"range":[107.3,913],"nice":false,"zero":false},
   "axis":{"orient":"top","offset":-636.7,"values":[62.1,62.2,62.3,62.4,62.6,62.7,62.8,62.9,63.1,63.2,63.3,63.4,63.6,63.7,63.8,63.9,64.1,64.2,64.3,64.4,64.6,64.7,64.8,64.9,65.1,65.2,65.3,65.4,65.6,65.7,65.8,65.9,66.1,66.2,66.3,66.4],"domain":false,"ticks":true,"tickSize":5,"tickWidth":2,"tickColor":"#000","labels":false,"title":null}},
  "y":{"field":"c","type":"quantitative","scale":{"domain":[-3,3],"range":[602.7,124],"nice":false,"zero":false},"axis":null},
  "detail":{"field":"side","type":"nominal"},"order":{"field":"o","type":"quantitative"}}}
],
"resolve":{"scale":{"x":"independent","y":"independent","color":"independent","fill":"independent","stroke":"independent"}}
}
